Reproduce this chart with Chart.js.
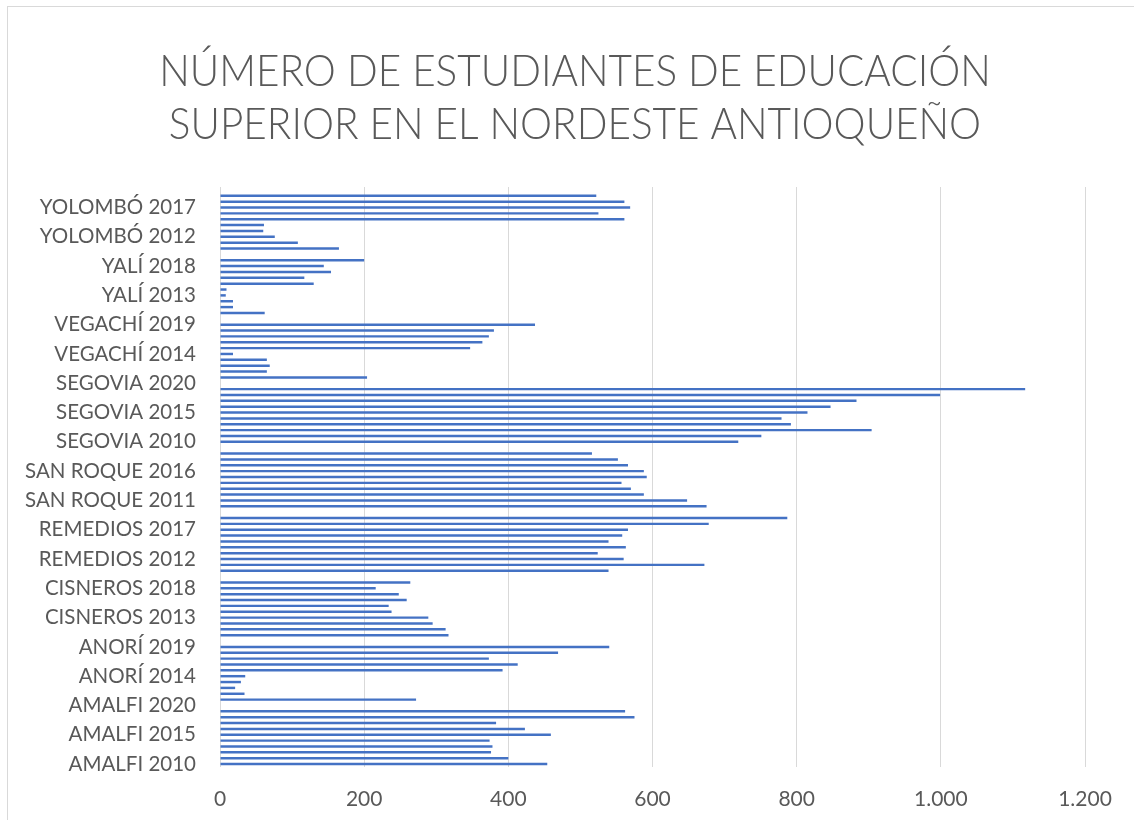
<!DOCTYPE html>
<html lang="es">
<head>
<meta charset="utf-8">
<title>Estudiantes de educación superior - Nordeste antioqueño</title>
<script src="https://cdn.jsdelivr.net/npm/chart.js@4.4.1/dist/chart.umd.min.js"></script>
<style>
  html, body { margin: 0; padding: 0; background: #fff; overflow: hidden; }
  #frame {
    position: absolute; left: 7px; top: 6px; width: 1136px; height: 900px;
    border: 1px solid #d9d9d9; box-sizing: border-box;
  }
  #wrap { position: absolute; left: 0; top: 0; width: 1134px; height: 820px; }
</style>
</head>
<body>
<div id="frame"></div>
<div id="wrap"><canvas id="students-chart"></canvas></div>
<script>
const municipios = ['AMALFI', 'ANORÍ', 'CISNEROS', 'REMEDIOS', 'SAN ROQUE', 'SEGOVIA', 'VEGACHÍ', 'YALÍ', 'YOLOMBÓ'];
const years = [2010, 2011, 2012, 2013, 2014, 2015, 2016, 2017, 2018, 2019, 2020];

// students per year 2010..2020 (no data yet for 2020)
const amalfi    = [454, 400, 376, 378, 374, 459, 423, 383, 575, 562, null];
const anori     = [272, 34, 21, 29, 35, 392, 413, 373, 469, 540, null];
const cisneros  = [317, 313, 295, 289, 238, 234, 259, 248, 216, 264, null];
const remedios  = [539, 672, 560, 524, 563, 539, 558, 566, 678, 787, null];
const sanRoque  = [675, 648, 588, 570, 557, 592, 588, 566, 552, 516, null];
const segovia   = [719, 751, 904, 792, 779, 815, 847, 883, 999, 1117, null];
const vegachi   = [204, 65, 69, 65, 18, 347, 364, 373, 380, 437, null];
const yali      = [62, 18, 18, 8, 9, 130, 117, 154, 144, 200, null];
const yolombo   = [165, 108, 76, 60, 61, 561, 525, 569, 561, 522, null];

const xTicks = [0, 200, 400, 600, 800, 1000, 1200];

const titleLines = ['NÚMERO DE ESTUDIANTES DE EDUCACIÓN', 'SUPERIOR EN EL NORDESTE ANTIOQUEÑO'];

const series = [amalfi, anori, cisneros, remedios, sanRoque, segovia, vegachi, yali, yolombo];

const labels = municipios.flatMap(m => years.map(y => m + ' ' + y));
const values = series.flat();

const grey = '#595959';
const fontFamily = 'Lato, "Open Sans", sans-serif';
Chart.defaults.font.family = fontFamily;
Chart.defaults.color = grey;

const fmt = v => String(v).replace(/\B(?=(\d{3})+(?!\d))/g, '.');

// the title is centred on the bordered frame rather than on the plot,
// so it is drawn by hand above the reserved top padding (slightly condensed)
const frameTitle = {
  id: 'frameTitle',
  afterDraw(chart) {
    const ctx = chart.ctx;
    const squeeze = 0.92;
    ctx.save();
    ctx.font = '300 44px ' + fontFamily;
    ctx.fillStyle = grey;
    ctx.textAlign = 'center';
    ctx.textBaseline = 'alphabetic';
    ctx.scale(squeeze, 1);
    titleLines.forEach((line, i) => ctx.fillText(line, 575 / squeeze, 86 + i * 53));
    ctx.restore();
  },
};

const config = {
  type: 'bar',
  data: {
    labels,
    datasets: [{
      data: values,
      backgroundColor: '#4472c4',
      borderWidth: 0,
      barPercentage: 0.42,
      categoryPercentage: 1,
    }],
  },
  options: {
    indexAxis: 'y',
    responsive: true,
    maintainAspectRatio: false,
    animation: false,
    layout: { padding: { left: 0, right: 49, top: 187, bottom: 0 } },
    plugins: {
      legend: { display: false },
      tooltip: { enabled: false },
      title: { display: false },
    },
    scales: {
      x: {
        min: xTicks[0],
        max: xTicks[xTicks.length - 1],
        afterBuildTicks: scale => { scale.ticks = xTicks.map(v => ({ value: v })); },
        afterFit: scale => { scale.height = 53; },
        border: { display: false },
        grid: { color: '#d9d9d9', lineWidth: 1, drawTicks: false },
        ticks: {
          padding: 20,
          font: { size: 21 },
          callback: v => fmt(v),
        },
      },
      y: {
        reverse: true,
        afterFit: scale => { scale.width = 220; },
        border: { display: false },
        grid: { display: false, drawTicks: false },
        ticks: {
          autoSkip: false,
          padding: 24,
          font: { size: 20.5 },
          callback: function (v, i) {
            return i % 5 === 0 ? this.getLabelForValue(v) : '';
          },
        },
      },
    },
  },
  plugins: [frameTitle],
};

new Chart(document.getElementById('students-chart'), config);
</script>
</body>
</html>
